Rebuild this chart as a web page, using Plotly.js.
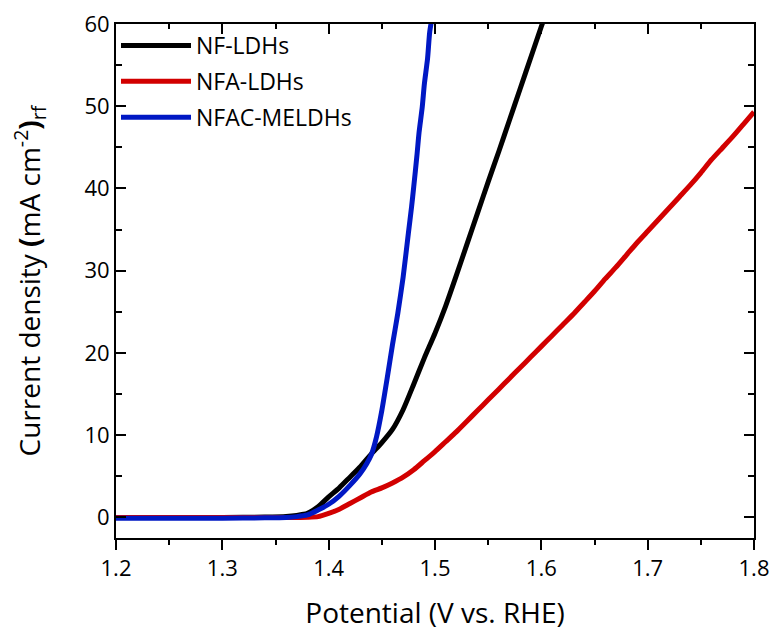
<!DOCTYPE html>
<html>
<head>
<meta charset="utf-8">
<script src="https://cdn.plot.ly/plotly-3.0.1.min.js"></script>
<style>html,body{margin:0;padding:0;background:#fff;}#chart{width:774px;height:637px;}</style>
</head>
<body>
<div id="chart"></div>
<script>
// Potential (V vs. RHE) and current density (mA cm^-2)
const vNF = [1.20,1.25,1.30,1.34,1.36,1.37,1.38,1.39,1.40,1.41,1.42,1.43,1.44,1.45,1.46,1.47,1.48,1.49,1.50,1.51,1.52,1.53,1.54,1.55,1.56,1.57,1.58,1.59,1.60,1.605];
const jNF = [0.0,0.0,0.0,0.05,0.12,0.25,0.5,1.3,2.5,3.6,4.9,6.2,7.7,9.1,10.7,13.1,16.2,19.4,22.4,25.7,29.4,33.2,37.0,40.8,44.5,48.3,52.1,55.9,59.7,61.5];

const vNFA = [1.20,1.25,1.30,1.34,1.37,1.38,1.39,1.40,1.41,1.42,1.43,1.44,1.45,1.46,1.47,1.48,1.49,1.50,1.51,1.52,1.53,1.54,1.55,1.56,1.57,1.58,1.59,1.60,1.61,1.62,1.63,1.64,1.65,1.66,1.67,1.68,1.69,1.70,1.71,1.72,1.73,1.74,1.75,1.76,1.77,1.78,1.79,1.80];
const jNFA = [0.0,0.0,0.0,0.0,0.0,0.02,0.1,0.5,1.0,1.7,2.4,3.1,3.6,4.2,4.9,5.8,6.9,8.0,9.2,10.4,11.7,13.0,14.3,15.6,16.9,18.2,19.5,20.8,22.1,23.4,24.7,26.1,27.5,29.0,30.4,31.9,33.4,34.8,36.2,37.6,39.0,40.4,41.9,43.5,44.9,46.3,47.8,49.3];

const vNFAC = [1.20,1.25,1.30,1.34,1.36,1.37,1.38,1.39,1.40,1.41,1.42,1.43,1.44,1.445,1.45,1.455,1.46,1.465,1.47,1.475,1.478,1.48,1.483,1.485,1.488,1.49,1.493,1.495,1.4975];
const jNFAC = [-0.1,-0.1,-0.1,-0.05,0.0,0.1,0.3,0.9,1.6,2.6,3.9,5.4,7.6,9.8,13.0,16.9,21.0,24.8,29.2,34.6,37.8,40.2,44.0,46.8,49.9,52.7,55.8,59.0,61.0];

const seriesNames = ['NF-LDHs','NFA-LDHs','NFAC-MELDHs'];
const seriesColors = ['#000000','#d20000','#0018c4'];

const xTickVals = [1.2,1.3,1.4,1.5,1.6,1.7,1.8];
const xTickText = ['1.2','1.3','1.4','1.5','1.6','1.7','1.8'];
const yTickVals = [0,10,20,30,40,50,60];
const yTickText = ['0','10','20','30','40','50','60'];

const FONT = '"Open Sans", "DejaVu Sans", sans-serif';
const xs = [vNF, vNFA, vNFAC];
const ys = [jNF, jNFA, jNFAC];

const traces = xs.map((x, i) => ({
  x: x, y: ys[i], type: 'scatter', mode: 'lines', name: seriesNames[i],
  legendgroup: 'g' + i,
  line: {color: seriesColors[i], width: 5, shape: 'spline', smoothing: 0.6}
}));
traces.push({x: [], y: [], xaxis: 'x2', yaxis: 'y', type: 'scatter', mode: 'lines', showlegend: false, hoverinfo: 'skip'});

const layout = {
  width: 774, height: 637,
  margin: {l: 116, r: 20, t: 24, b: 99},
  paper_bgcolor: '#ffffff', plot_bgcolor: '#ffffff',
  font: {family: FONT, color: '#000', size: 22},
  showlegend: true,
  legend: {x: 0, y: 1, xanchor: 'left', yanchor: 'top', bgcolor: 'rgba(0,0,0,0)',
           font: {family: FONT, size: 23, color: '#000'}, tracegroupgap: 3, itemwidth: 70},
  xaxis: {
    range: [1.2, 1.8], tickmode: 'array', tickvals: xTickVals, ticktext: xTickText,
    ticks: 'outside', ticklen: 10, tickwidth: 2, tickcolor: '#000',
    showline: true, linewidth: 2, linecolor: '#000', mirror: true,
    showgrid: false, zeroline: false,
    minor: {dtick: 0.05, tick0: 1.2, ticks: 'outside', ticklen: 5, tickwidth: 2, tickcolor: '#000', showgrid: false},
    tickfont: {family: FONT, size: 22},
    title: {text: 'Potential (V vs. RHE)', font: {family: FONT, size: 28}, standoff: 22}
  },
  xaxis2: {
    overlaying: 'x', side: 'top', range: [1.2, 1.8], tickmode: 'array', tickvals: xTickVals,
    showticklabels: false, ticks: 'inside', ticklen: 10, tickwidth: 2, tickcolor: '#000',
    showline: false, showgrid: false, zeroline: false,
    minor: {dtick: 0.05, tick0: 1.2, ticks: 'inside', ticklen: 5, tickwidth: 2, tickcolor: '#000', showgrid: false}
  },
  yaxis: {
    range: [-2.5, 60], tickmode: 'array', tickvals: yTickVals, ticktext: yTickText,
    ticks: 'inside', ticklen: 10, tickwidth: 2, tickcolor: '#000',
    showline: true, linewidth: 2, linecolor: '#000', mirror: 'ticks',
    showgrid: false, zeroline: false,
    minor: {dtick: 5, tick0: 0, ticks: 'inside', ticklen: 6, tickwidth: 2, tickcolor: '#000', showgrid: false},
    tickfont: {family: FONT, size: 22},
    title: {text: 'Current density <b>(</b>mA cm<sup>-2</sup><b>)</b><sub>rf</sub>', font: {family: FONT, size: 28}, standoff: 36}
  }
};

Plotly.newPlot('chart', traces, layout, {displayModeBar: false, staticPlot: true});
</script>
</body>
</html>
